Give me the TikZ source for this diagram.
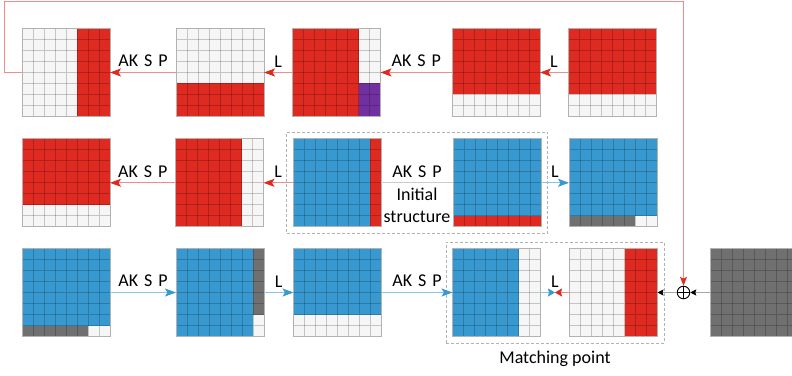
\documentclass[tikz,border=0pt]{standalone}
\usepackage{fontspec}
\setmainfont{Carlito}
\usetikzlibrary{arrows.meta,calc,fit,positioning}

\definecolor{redcell}{RGB}{222,42,32}
\definecolor{bluecell}{RGB}{55,153,208}
\definecolor{graycell}{RGB}{112,112,112}
\definecolor{purplecell}{RGB}{112,48,160}
\definecolor{whitecell}{RGB}{246,246,246}
\definecolor{redline}{RGB}{240,140,140}
\definecolor{blueline}{RGB}{135,198,228}

% 8x8 block: name, centre, list of filled cell ranges
\newcommand{\cellblock}[3]{%
  \node[gridbox] (#1) at (#2) {};
  \begin{scope}[shift={(#1.north west)}]
    \foreach \ca/\ra/\cb/\rb/\cc in {#3}
      \fill[fill=\cc] (\ca*11,-\ra*11) rectangle (\cb*11,-\rb*11);
    \foreach \k in {1,...,7}
      \draw[cellline] (\k*11,0) -- (\k*11,-88) (0,-\k*11) -- (88,-\k*11);
  \end{scope}
  \draw[gridborder] (#1.south west) rectangle (#1.north east);
}

\begin{document}
\begin{tikzpicture}[x=1pt, y=1pt,
    gridbox/.style={rectangle, minimum width=88pt, minimum height=88pt, inner sep=0pt, outer sep=0pt, fill=whitecell},
    cellline/.style={black, opacity=0.2, line width=0.7pt},
    gridborder/.style={draw=gray!60, line width=0.9pt},
    lbl/.style={font=\fontsize{18}{21.5}\selectfont, text=black, inner sep=2pt},
    redarrow/.style={draw=redline, line width=0.9pt, -{Stealth[length=11pt,width=8pt,inset=2.5pt,color=redcell]}},
    bluearrow/.style={draw=blueline, line width=0.9pt, -{Stealth[length=11pt,width=8pt,inset=2.5pt,color=bluecell]}},
    redshort/.style={draw=redline, line width=0.9pt, -{Stealth[length=7pt,width=8pt,inset=1pt,color=redcell]}},
    blueshort/.style={draw=blueline, line width=0.9pt, -{Stealth[length=7pt,width=8pt,inset=1pt,color=bluecell]}},
    blackarrow/.style={draw=gray!70, line width=0.8pt, -{Stealth[length=6pt,width=6pt,inset=1pt,color=black]}},
    redfeed/.style={draw=redline, line width=0.9pt, -{Stealth[length=9pt,width=7pt,inset=2pt,color=redcell]}},
    dashbox/.style={draw=gray!60, dash pattern=on 3pt off 2pt, line width=0.8pt, inner sep=6.5pt},
    sumnode/.style={circle, draw=black, line width=0.9pt, minimum size=12.6pt, inner sep=0pt,
      path picture={\draw[black, line width=0.9pt] (path picture bounding box.north) -- (path picture bounding box.south)
        (path picture bounding box.west) -- (path picture bounding box.east);}}]
  \useasboundingbox (0,0) rectangle (792,375);
  \clip (0,0) rectangle (792,375);

  % Top row
  \cellblock{r1c1}{66,302.5}{5/0/8/8/redcell}
  \cellblock{r1c2}{220,302.5}{0/5/8/8/redcell}
  \cellblock{r1c3}{336.5,302.5}{0/0/6/8/redcell, 6/5/8/8/purplecell}
  \cellblock{r1c4}{496,302.5}{0/0/8/6/redcell}
  \cellblock{r1c5}{612,302.5}{0/0/8/6/redcell}

  % Middle row
  \cellblock{r2c1}{66,192.2}{0/0/8/6/redcell}
  \cellblock{r2c2}{219.5,192.2}{0/0/6/8/redcell}
  \cellblock{r2c3}{337,192.2}{0/0/7/8/bluecell, 7/0/8/8/redcell}
  \cellblock{r2c4}{497,192.2}{0/0/8/7/bluecell, 0/7/8/8/redcell}
  \cellblock{r2c5}{613,192.2}{0/0/8/7/bluecell, 0/7/6/8/graycell}

  % Bottom row
  \cellblock{r3c1}{66,82.5}{0/0/8/7/bluecell, 0/7/6/8/graycell}
  \cellblock{r3c2}{220,82.5}{0/0/7/8/bluecell, 7/0/8/6/graycell}
  \cellblock{r3c3}{337.5,82.5}{0/0/8/6/bluecell}
  \cellblock{r3c4}{496.5,82.5}{0/0/6/8/bluecell}
  \cellblock{r3c5}{613.5,82.5}{5/0/8/8/redcell}
  \cellblock{r3c6}{754,82.5}{0/0/8/8/graycell}

  % Dashed frames
  \node[dashbox, fit=(r2c3)(r2c4)] (initbox) {};
  \node[dashbox, fit=(r3c4)(r3c5)] (matchbox) {};
  \node[lbl, below=5pt of matchbox] (mtext) {Matching point};

  % Top row arrows
  \draw[redarrow] (r1c5.west) -- (r1c4.east) node[midway, above=3pt, lbl] (t1) {L};
  \draw[redarrow] (r1c4.west) -- (r1c3.east) node[midway, above=3pt, lbl] (t2) {AK\hspace{6pt}S\hspace{6pt}P};
  \draw[redarrow] (r1c3.west) -- (r1c2.east) node[midway, above=3pt, lbl] (t3) {L};
  \draw[redarrow] (r1c2.west) -- (r1c1.east) node[midway, above=3pt, lbl] (t4) {AK\hspace{6pt}S\hspace{6pt}P};

  % Middle row arrows
  \draw[redarrow] (r2c2.west) -- (r2c1.east) node[midway, above=3pt, lbl] (m1) {AK\hspace{6pt}S\hspace{6pt}P};
  \draw[redarrow] (r2c3.west) -- (r2c2.east) node[midway, above=3pt, lbl] (m2) {L};
  \draw[gray!40, line width=0.9pt] (r2c3.east) -- (r2c4.west)
    node[midway, above=3pt, lbl] (m3) {AK\hspace{6pt}S\hspace{6pt}P}
    node[midway, below=3pt, lbl, align=center] (m4) {Initial\\structure};
  \draw[bluearrow] (r2c4.east) -- (r2c5.west) node[midway, above=3pt, lbl] (m5) {L};

  % Bottom row arrows
  \draw[bluearrow] (r3c1.east) -- (r3c2.west) node[midway, above=3pt, lbl] (b1) {AK\hspace{6pt}S\hspace{6pt}P};
  \draw[bluearrow] (r3c2.east) -- (r3c3.west) node[midway, above=3pt, lbl] (b2) {L};
  \draw[bluearrow] (r3c3.east) -- (r3c4.west) node[midway, above=3pt, lbl] (b3) {AK\hspace{6pt}S\hspace{6pt}P};
  \coordinate (mpt) at ($(r3c4.east)!0.5!(r3c5.west)$);
  \draw[blueshort] (r3c4.east) -- (mpt);
  \draw[redshort] (r3c5.west) -- (mpt);
  \node[lbl, above=3pt] (b4) at (mpt) {L};

  % Sum and feedback
  \node[sumnode] (sum) at (683.5,82.5) {};
  \draw[blackarrow] (r3c6.west) -- (sum.east);
  \draw[blackarrow] (sum.west) -- (r3c5.east);
  \coordinate (fbturn) at (4.3,373.7);
  \draw[redfeed] (r1c1.west) -| (fbturn) -| (sum.north);
\end{tikzpicture}
\end{document}
